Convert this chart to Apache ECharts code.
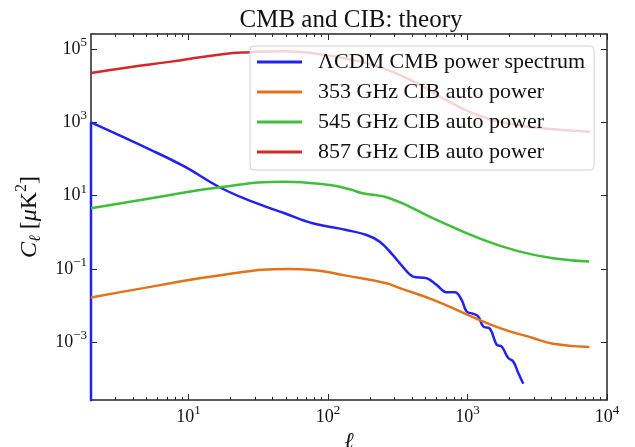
<!DOCTYPE html>
<html>
<head>
<meta charset="utf-8">
<script src="https://cdn.jsdelivr.net/npm/echarts@6/dist/echarts.min.js"></script>
<style>
  html, body { margin: 0; padding: 0; background: #fff; }
  #chart { width: 635px; height: 447px; }
</style>
</head>
<body>
<div id="chart"></div>
<script>
// values (multipole l, C_l in uK^2)
const ellCmb = [2, 5.4, 9.4, 16.7, 27.4, 48.9, 77.6, 135, 189, 235, 291, 343, 408, 508, 600, 708, 812, 907, 986, 1100, 1194, 1297, 1449, 1619, 1758, 1960, 2128, 2312, 2512];
const clCmb = [1000, 175, 61.5, 16.9, 7.3, 3.29, 1.75, 1.15, 0.84, 0.552, 0.239, 0.115, 0.0612, 0.0554, 0.0364, 0.023, 0.023, 0.0142, 0.0068, 0.00588, 0.00496, 0.00265, 0.00229, 0.00084, 0.000754, 0.000364, 0.000294, 0.000142, 7.2e-5];
// the CMB curve drops off the bottom at the first multipole
const ellCmbDrop = [2, 2];
const clCmbDrop = [1e-6, 1000];

const ell353 = [2, 5.86, 17.5, 53, 77.6, 135, 262, 327, 568, 1002, 1710, 2951, 4105, 7480];
const cl353 = [0.0164, 0.0341, 0.0681, 0.0993, 0.0933, 0.065, 0.0404, 0.0296, 0.0142, 0.00552, 0.00239, 0.00128, 0.000893, 0.000726];

const ell545 = [2, 5.4, 16.7, 48.9, 70, 103, 143, 177, 277, 568, 1297, 2377, 4105, 7450];
const cl545 = [4.5, 8.43, 16.9, 23.9, 22.5, 19.5, 14.9, 11.6, 8.43, 2.4, 0.615, 0.295, 0.195, 0.159];

const ell857 = [2, 3.77, 7.3, 17.5, 27.4, 48.9, 87, 143, 247, 434, 748, 1290, 2265, 3900, 7570];
const cl857 = [22500, 32300, 45000, 73100, 82800, 88100, 73100, 53300, 30300, 11800, 3580, 1400, 843, 656, 555];

const seriesNames = ['ΛCDM CMB power spectrum', '353 GHz CIB auto power', '545 GHz CIB auto power', '857 GHz CIB auto power'];
const seriesColors = ['#2222ee', '#e3721a', '#3ebf3a', '#d4282b'];

const xMajorTicks = [10, 100, 1000, 10000];
const xMinorTicks = [3, 4, 5, 6, 7, 8, 9, 20, 30, 40, 50, 60, 70, 80, 90,
  200, 300, 400, 500, 600, 700, 800, 900, 2000, 3000, 4000, 5000, 6000, 7000, 8000, 9000];
const yMajorTicks = [1e-3, 1e-1, 1e1, 1e3, 1e5];

const FONT = '"Liberation Serif", "DejaVu Serif", serif';

function pairs(xs, ys) {
  return xs.map((x, i) => [x, ys[i]]);
}

function powLabel(v) {
  const e = Math.round(Math.log10(v));
  return '{b|10}{s|' + (e < 0 ? '\u2212' + (-e) : e) + '}';
}

const tickRich = {
  b: { fontFamily: FONT, fontSize: 18, color: '#111', lineHeight: 26, verticalAlign: 'middle' },
  s: { fontFamily: FONT, fontSize: 13, color: '#111', lineHeight: 14, verticalAlign: 'top' }
};

const lineAxis = { show: true, onZero: false, lineStyle: { color: '#262626', width: 1.5 } };

function xAxisOf(position, ticks, len, withLine, withLabel) {
  return {
    type: 'log', logBase: 10, min: 2, max: 10000, position: position,
    axisLine: withLine ? lineAxis : { show: false },
    axisTick: { show: true, inside: true, length: len, customValues: ticks,
      lineStyle: { color: '#262626', width: 1 } },
    axisLabel: withLabel ? { show: true, customValues: ticks, margin: 4,
      formatter: powLabel, rich: tickRich } : { show: false },
    splitLine: { show: false },
    minorTick: { show: false }
  };
}

const chart = echarts.init(document.getElementById('chart'));

const seriesData = [pairs(ellCmb, clCmb), pairs(ell353, cl353), pairs(ell545, cl545), pairs(ell857, cl857)];

const series = seriesNames.map((name, i) => ({
  name: name,
  type: 'line',
  xAxisIndex: 0,
  yAxisIndex: 0,
  data: seriesData[i],
  symbol: 'none',
  smooth: i === 0 ? 0.4 : 0.5,
  clip: true,
  color: seriesColors[i],
  lineStyle: { width: 2.5, color: seriesColors[i] }
}));
series.unshift({
  name: seriesNames[0],
  type: 'line',
  data: pairs(ellCmbDrop, clCmbDrop),
  symbol: 'none',
  clip: true,
  color: seriesColors[0],
  lineStyle: { width: 2.5, color: seriesColors[0] }
});

chart.setOption({
  backgroundColor: '#fff',
  animation: false,
  title: {
    text: 'CMB and CIB: theory',
    left: 346, top: 3, textAlign: 'center',
    textStyle: { fontFamily: FONT, fontSize: 25, fontWeight: 'normal', color: '#111' }
  },
  legend: {
    orient: 'vertical',
    left: 250, top: 46,
    data: seriesNames,
    icon: 'rect', itemWidth: 45, itemHeight: 3, itemGap: 8,
    padding: [5, 9, 7, 7],
    backgroundColor: 'rgba(255,255,255,0.8)',
    borderColor: '#d0d0d0', borderWidth: 1, borderRadius: 4,
    textStyle: { fontFamily: FONT, fontSize: 22, color: '#111', lineHeight: 20, padding: [0, 0, 0, 11] }
  },
  grid: { left: 91, right: 28, top: 34, bottom: 47, containLabel: false, outerBoundsMode: 'none' },
  xAxis: [
    Object.assign(xAxisOf('bottom', xMajorTicks, 6, true, true), {
      name: 'ℓ', nameLocation: 'middle', nameGap: 29,
      nameTextStyle: { fontFamily: FONT, fontSize: 23, fontStyle: 'italic', color: '#111' }
    }),
    xAxisOf('bottom', xMinorTicks, 3, false, false),
    xAxisOf('top', xMajorTicks, 6, true, false),
    xAxisOf('top', xMinorTicks, 3, false, false)
  ],
  yAxis: [
    {
      type: 'log', logBase: 10, min: 2.6e-5, max: 2.6e5, position: 'left',
      axisLine: lineAxis,
      axisTick: { show: true, inside: true, length: 6, customValues: yMajorTicks,
        lineStyle: { color: '#262626', width: 1 } },
      axisLabel: { show: true, customValues: yMajorTicks, margin: 4, formatter: powLabel, rich: tickRich },
      splitLine: { show: false },
      name: '{it|C}{sub|ℓ}{r| [}{it|μ}{r|K}{sup|2}{r|]}',
      nameLocation: 'middle', nameGap: 46,
      nameTextStyle: {
        rich: {
          it: { fontFamily: FONT, fontSize: 24, fontStyle: 'italic', color: '#111', lineHeight: 30, verticalAlign: 'middle' },
          r: { fontFamily: FONT, fontSize: 24, color: '#111', lineHeight: 30, verticalAlign: 'middle' },
          sub: { fontFamily: FONT, fontSize: 16, fontStyle: 'italic', color: '#111', lineHeight: 16, verticalAlign: 'bottom' },
          sup: { fontFamily: FONT, fontSize: 16, color: '#111', lineHeight: 16, verticalAlign: 'top' }
        }
      }
    },
    {
      type: 'log', logBase: 10, min: 2.6e-5, max: 2.6e5, position: 'right',
      axisLine: lineAxis,
      axisTick: { show: true, inside: true, length: 6, customValues: yMajorTicks,
        lineStyle: { color: '#262626', width: 1 } },
      axisLabel: { show: false },
      splitLine: { show: false }
    }
  ],
  series: series
});
</script>
</body>
</html>
